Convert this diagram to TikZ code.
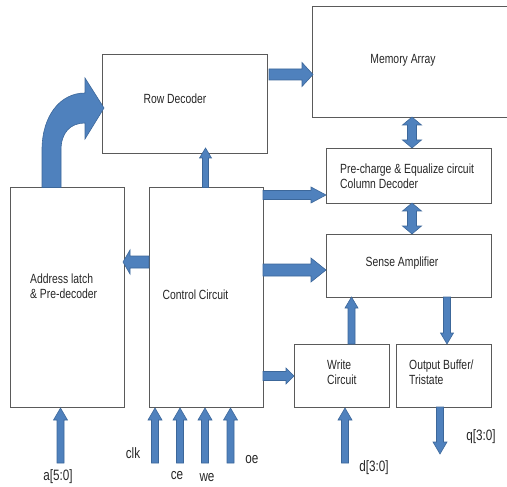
\documentclass[tikz,border=0pt]{standalone}
\usepackage{fontspec}
\setmainfont{Liberation Sans}[FakeStretch=0.78]
\definecolor{arrfill}{HTML}{4F81BD}
\definecolor{arrline}{HTML}{3C679A}
\definecolor{boxgray}{HTML}{5A5A5A}
\definecolor{txt}{HTML}{262626}
% horizontal block arrow: x1, x2 (tip), y, shaft width, head width, signed head length
\newcommand\harr[6]{\filldraw[barrow] (#1,{#3-#4/2}) -- ({#2-(#6)},{#3-#4/2}) -- ({#2-(#6)},{#3-#5/2}) -- (#2,#3) -- ({#2-(#6)},{#3+#5/2}) -- ({#2-(#6)},{#3+#4/2}) -- (#1,{#3+#4/2}) -- cycle;}
% vertical block arrow: y1, y2 (tip), x, shaft width, head width, signed head length
\newcommand\varr[6]{\filldraw[barrow] ({#3-#4/2},#1) -- ({#3-#4/2},{#2-(#6)}) -- ({#3-#5/2},{#2-(#6)}) -- (#3,#2) -- ({#3+#5/2},{#2-(#6)}) -- ({#3+#4/2},{#2-(#6)}) -- ({#3+#4/2},#1) -- cycle;}
% vertical double block arrow: y1 (top tip), y2 (bottom tip), x, shaft, head width, head length
\newcommand\dvarr[6]{\filldraw[barrow] (#3,#1) -- ({#3+#5/2},{#1+#6}) -- ({#3+#4/2},{#1+#6}) -- ({#3+#4/2},{#2-#6}) -- ({#3+#5/2},{#2-#6}) -- (#3,#2) -- ({#3-#5/2},{#2-#6}) -- ({#3-#4/2},{#2-#6}) -- ({#3-#4/2},{#1+#6}) -- ({#3-#5/2},{#1+#6}) -- cycle;}
\begin{document}
\begin{tikzpicture}[x=1pt,y=-1pt,
  box/.style={draw=boxgray, line width=0.9pt, inner sep=0},
  lbl/.style={inner sep=0, text=txt, font=\fontsize{13.3}{15}\selectfont},
  io/.style={inner sep=0, text=txt, font=\fontsize{15}{17}\selectfont},
  barrow/.style={fill=arrfill, draw=arrline, line width=0.6pt, line join=miter}]
\useasboundingbox (0,0) rectangle (507,487);

% boxes
\node[inner sep=0, minimum width=200pt, minimum height=110pt] (mem) at (413,62) {};
\draw[draw=boxgray, line width=0.9pt] (mem.north east) -- (mem.north west) -- (mem.south west) -- (mem.south east);
\node[box, minimum width=165pt, minimum height=99pt] (row) at (184.5,103.5) {};
\node[box, minimum width=165pt, minimum height=55pt] (pre) at (408.5,175.5) {};
\node[box, minimum width=165pt, minimum height=63pt] (sense) at (408.5,265.5) {};
\node[box, minimum width=114pt, minimum height=220pt] (addr) at (67,297.5) {};
\node[box, minimum width=114pt, minimum height=220pt] (ctrl) at (206,297.5) {};
\node[box, minimum width=95pt, minimum height=63pt] (write) at (341.5,375.5) {};
\node[box, minimum width=95pt, minimum height=63pt] (outb) at (443.5,375.5) {};

% texts
\node[lbl] (tmem) at (403,60) {Memory Array};
\node[lbl] (trow) at (175,99) {Row Decoder};
\node[lbl, anchor=west, align=left] (tpre) at (340,176) {Pre-charge \& Equalize circuit\\Column Decoder};
\node[lbl] (tsense) at (402,263) {Sense Amplifier};
\node[lbl, anchor=west, align=left] (taddr) at (30,286.5) {Address latch\\\& Pre-decoder};
\node[lbl] (tctrl) at (195.5,295) {Control Circuit};
\node[lbl, anchor=west, align=left] (twrite) at (327,372.5) {Write\\Circuit};
\node[lbl, anchor=west, align=left] (toutb) at (409,372.5) {Output Buffer/\\Tristate};

% io labels
\node[io] (la) at (58,477) {a[5:0]};
\node[io] (lclk) at (133,453) {clk};
\node[io] (lce) at (177,476) {ce};
\node[io] (lwe) at (207,478) {we};
\node[io] (loe) at (252,460) {oe};
\node[io] (ld) at (374,468) {d[3:0]};
\node[io] (lq) at (481,437) {q[3:0]};

% curved arrow: address latch -> row decoder
\filldraw[barrow] (42,187.5) -- (42,150) .. controls (42,116) and (60,93) .. (85,93)
  -- (85,78) -- (104,108) -- (85,139) -- (85,123)
  .. controls (70,123) and (61,133) .. (61,150) -- (61,187.5) -- cycle;

% block arrows
\harr{269}{313}{74.5}{11}{24}{11}
\dvarr{117}{148}{412}{9}{19}{8}
\dvarr{203}{234}{412}{9}{19}{8}
\varr{187.5}{148}{205.5}{6}{12}{-10}
\harr{263}{326}{195}{9}{16}{15}
\harr{149}{123}{262}{12}{24}{-7}
\harr{263}{326}{270}{12}{24}{15}
\harr{263}{294}{376}{9}{16}{8}
\varr{344}{297}{351.5}{7}{13}{-11}
\varr{297}{344}{447}{7}{13}{11}
\varr{463}{408}{60.5}{7}{14}{-12}
\varr{463}{408}{155}{7}{14}{-12}
\varr{463}{408}{180}{7}{14}{-12}
\varr{463}{408}{205}{7}{14}{-12}
\varr{463}{408}{230.5}{7}{14}{-12}
\varr{463}{408}{345}{7}{14}{-12}
\varr{407}{454}{440}{7}{14}{12}
\end{tikzpicture}
\end{document}
